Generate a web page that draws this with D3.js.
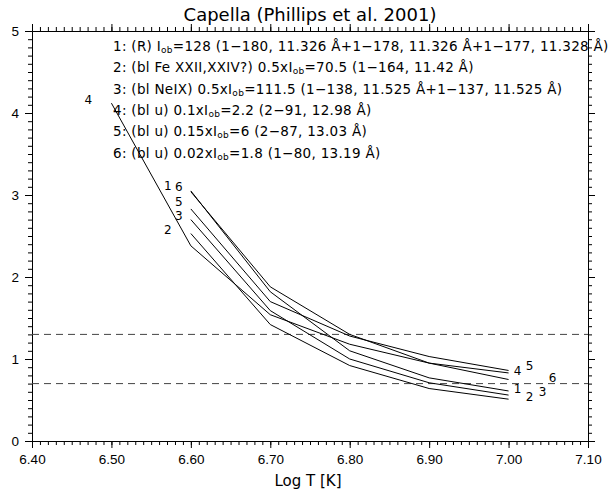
<!DOCTYPE html>
<html>
<head>
<meta charset="utf-8">
<script src="https://cdn.jsdelivr.net/npm/d3@7"></script>
<style>
  body { margin: 0; background: #fff; }
  svg { font-family: "DejaVu Sans", sans-serif; }
</style>
</head>
<body>
<div id="vis"></div>
<script>
// log T grid, line 4 is the only one that starts at 6.5
const logT = [6.5, 6.6, 6.7, 6.8, 6.9, 7.0]

// ratio values, one array per line
const line1 = [null, 3.05, 1.82, 1.10, 0.77, 0.61]
const line2 = [null, 2.53, 1.42, 0.92, 0.64, 0.51]
const line3 = [null, 2.70, 1.59, 1.00, 0.71, 0.56]
const line4 = [4.12, 2.38, 1.54, 1.18, 0.95, 0.83]
const line5 = [null, 2.83, 1.70, 1.28, 1.03, 0.86]
const line6 = [null, 3.04, 1.88, 1.30, 0.95, 0.75]
const seriesNames = ['1', '2', '3', '4', '5', '6']

// horizontal dashed reference levels
const refLevels = [1.3, 0.7]

// legend text, split round the I_ob subscript
const legendBefore = ['1: (R) I', '2: (bl Fe XXII,XXIV?) 0.5xI', '3: (bl NeIX) 0.5xI',
    '4: (bl u) 0.1xI', '5: (bl u) 0.15xI', '6: (bl u) 0.02xI']
const legendAfter = ['=128 (1\u2212180, 11.326 \u00c5+1\u2212178, 11.326 \u00c5+1\u2212177, 11.328 \u00c5)',
    '=70.5 (1\u2212164, 11.42 \u00c5)',
    '=111.5 (1\u2212138, 11.525 \u00c5+1\u2212137, 11.525 \u00c5)',
    '=2.2 (2\u221291, 12.98 \u00c5)',
    '=6 (2\u221287, 13.03 \u00c5)',
    '=1.8 (1\u221280, 13.19 \u00c5)']

const xTicks = [6.4, 6.5, 6.6, 6.7, 6.8, 6.9, 7.0, 7.1]
const yTicks = [0, 1, 2, 3, 4, 5]

const width = 613
const height = 492

const svg = d3.select('#vis').append('svg')
    .attr('width', width)
    .attr('height', height)

svg.append('rect').attr('width', width).attr('height', height).attr('fill', '#fff')

const x = d3.scaleLinear().domain([6.4, 7.1]).range([32, 588])
const y = d3.scaleLinear().domain([0, 5]).range([441, 31])

//minor tick positions
const xMinor = d3.range(641, 711).map(d => d / 100)
const yMinor = d3.range(0, 51).map(d => d / 10)

function styleAxis(g) {
    g.select('.domain').attr('stroke', '#000')
    g.selectAll('.tick line').attr('stroke', '#000')
    g.selectAll('.tick text').attr('fill', '#000').attr('font-size', 13.5)
}

//bottom + top
svg.append('g').attr('transform', 'translate(0,441)')
    .call(d3.axisBottom(x).tickValues(xMinor).tickSize(4).tickSizeOuter(0).tickFormat(''))
    .call(styleAxis)
svg.append('g').attr('transform', 'translate(0,441)')
    .call(d3.axisBottom(x).tickValues(xTicks).tickSize(7).tickSizeOuter(0).tickFormat(d3.format('.2f')).tickPadding(6))
    .call(styleAxis)
svg.append('g').attr('transform', 'translate(0,31)')
    .call(d3.axisTop(x).tickValues(xMinor).tickSize(4).tickSizeOuter(0).tickFormat(''))
    .call(styleAxis)
svg.append('g').attr('transform', 'translate(0,31)')
    .call(d3.axisTop(x).tickValues(xTicks).tickSize(7).tickSizeOuter(0).tickFormat(''))
    .call(styleAxis)

//left + right
svg.append('g').attr('transform', 'translate(32,0)')
    .call(d3.axisLeft(y).tickValues(yMinor).tickSize(4).tickSizeOuter(0).tickFormat(''))
    .call(styleAxis)
svg.append('g').attr('transform', 'translate(32,0)')
    .call(d3.axisLeft(y).tickValues(yTicks).tickSize(7).tickSizeOuter(0).tickFormat(d3.format('d')).tickPadding(6))
    .call(styleAxis)
svg.append('g').attr('transform', 'translate(588,0)')
    .call(d3.axisRight(y).tickValues(yMinor).tickSize(4).tickSizeOuter(0).tickFormat(''))
    .call(styleAxis)
svg.append('g').attr('transform', 'translate(588,0)')
    .call(d3.axisRight(y).tickValues(yTicks).tickSize(7).tickSizeOuter(0).tickFormat(''))
    .call(styleAxis)

//dashed reference lines
svg.selectAll('.ref')
    .data(refLevels)
    .enter()
    .append('line')
    .attr('x1', x(6.4))
    .attr('x2', x(7.1))
    .attr('y1', d => y(d))
    .attr('y2', d => y(d))
    .attr('stroke', '#444')
    .attr('stroke-dasharray', '7,5')

//the six curves
const series = [line1, line2, line3, line4, line5, line6].map((vals, i) => ({
    name: seriesNames[i],
    points: logT.map((t, j) => ({ t: t, v: vals[j] })).filter(p => p.v !== null)
}))

const line = d3.line().x(d => x(d.t)).y(d => y(d.v))

svg.selectAll('.curve')
    .data(series)
    .enter()
    .append('path')
    .attr('class', 'curve')
    .attr('d', d => line(d.points))
    .attr('fill', 'none')
    .attr('stroke', '#000')
    .attr('stroke-width', 1)

//number labels at both ends of each curve (pixel nudges so they do not overlap)
const startNudge = { '1': [-23, -5], '2': [-23, -4], '3': [-12, -4], '4': [-23, -3], '5': [-12, -7], '6': [-12, -5] }
const endNudge = { '1': [9, -2], '2': [21, -2], '3': [34, -3], '4': [9, -2], '5': [21, -4], '6': [44, -2] }

series.forEach(s => {
    const first = s.points[0]
    const last = s.points[s.points.length - 1]
    svg.append('text')
        .attr('x', x(first.t) + startNudge[s.name][0])
        .attr('y', y(first.v) + startNudge[s.name][1])
        .attr('text-anchor', 'middle')
        .attr('dominant-baseline', 'central')
        .attr('font-size', 12)
        .text(s.name)
    svg.append('text')
        .attr('x', x(last.t) + endNudge[s.name][0])
        .attr('y', y(last.v) + endNudge[s.name][1])
        .attr('text-anchor', 'middle')
        .attr('dominant-baseline', 'central')
        .attr('font-size', 12)
        .text(s.name)
})

//legend block
const legend = svg.append('g').attr('font-size', 13.5).attr('letter-spacing', 0.3)
legendBefore.forEach((txt, i) => {
    const t = legend.append('text')
        .attr('x', 113)
        .attr('y', 51 + i * 21.3)
    t.append('tspan').text(txt)
    t.append('tspan').attr('font-size', 9).attr('dy', 2).text('ob')
    t.append('tspan').attr('dy', -2).text(legendAfter[i])
})

//title and x label
svg.append('text')
    .attr('x', 310)
    .attr('y', 21)
    .attr('text-anchor', 'middle')
    .attr('font-size', 18)
    .text('Capella (Phillips et al. 2001)')

svg.append('text')
    .attr('x', 308)
    .attr('y', 486)
    .attr('text-anchor', 'middle')
    .attr('font-size', 15)
    .text('Log T [K]')
</script>
</body>
</html>
